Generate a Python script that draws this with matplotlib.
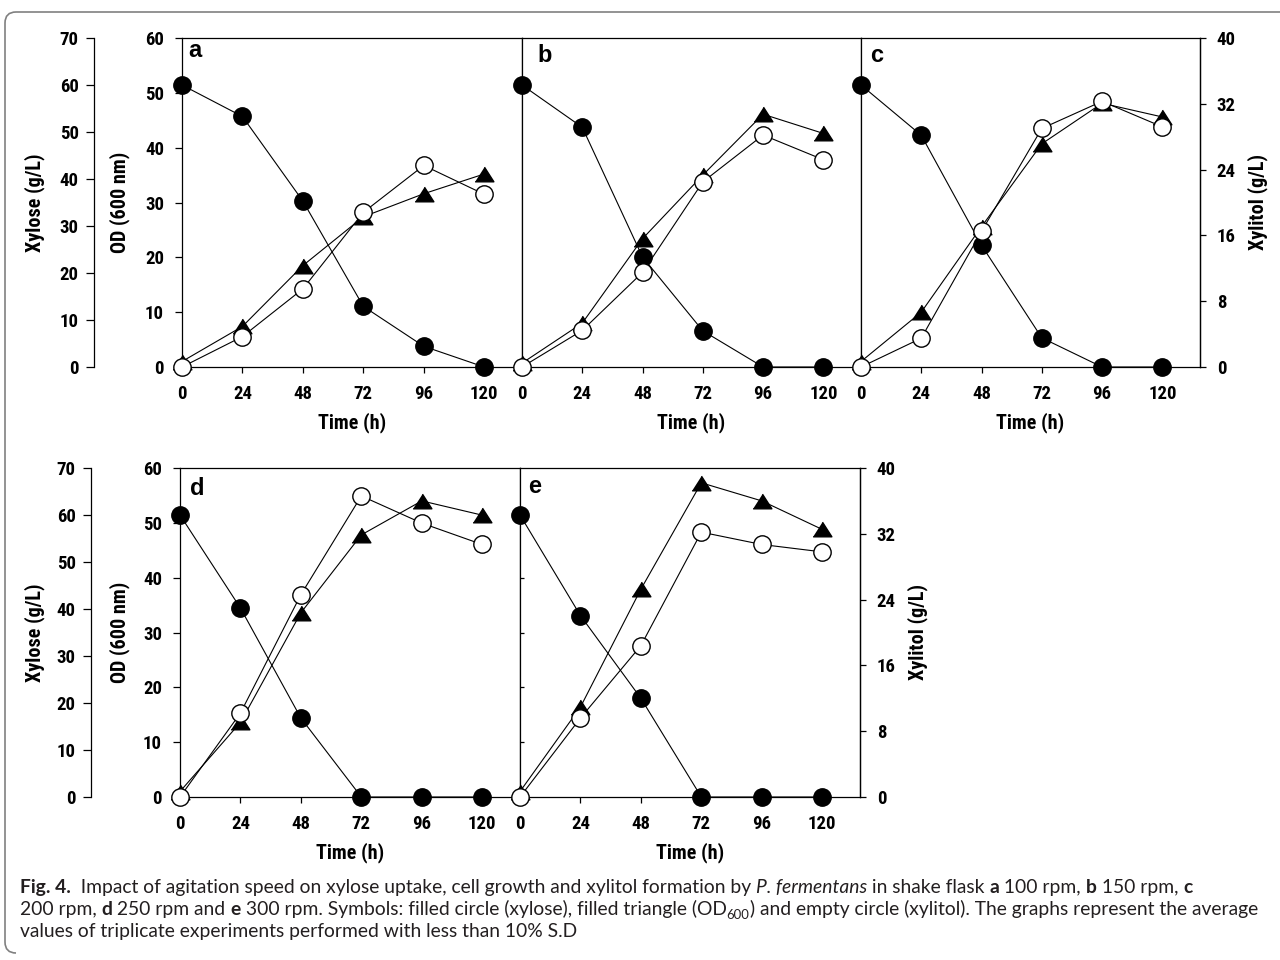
import matplotlib
matplotlib.use("Agg")
import matplotlib.pyplot as plt
from matplotlib import font_manager
from matplotlib.path import Path
from matplotlib.patches import PathPatch

# ---------------- data ----------------
time_h = [0, 24, 48, 72, 96, 120]
time_ticks = [0, 24, 48, 72, 96, 120]
xylose_ticks = [0, 10, 20, 30, 40, 50, 60, 70]
od_ticks = [0, 10, 20, 30, 40, 50, 60]
xylitol_ticks = [0, 8, 16, 24, 32, 40]
panel_letters = ["a", "b", "c", "d", "e"]

xylose_a = [60.0, 53.3, 35.3, 12.9, 4.4, 0.0]
od_a = [1.0, 7.4, 18.5, 27.4, 31.6, 35.2]
xylitol_a = [0.0, 3.7, 9.5, 18.8, 24.5, 21.0]

xylose_b = [60.0, 51.0, 23.4, 7.7, 0.0, 0.0]
od_b = [0.7, 8.0, 23.4, 35.0, 46.1, 42.6]
xylitol_b = [0.0, 4.45, 11.5, 22.5, 28.2, 25.2]

xylose_c = [60.0, 49.3, 25.9, 6.2, 0.0, 0.0]
od_c = [1.0, 10.0, 25.6, 40.7, 48.1, 45.6]
xylitol_c = [0.0, 3.5, 16.5, 29.0, 32.3, 29.2]

xylose_d = [60.0, 40.2, 16.8, 0.0, 0.0, 0.0]
od_d = [1.0, 13.6, 33.6, 47.8, 54.0, 51.4]
xylitol_d = [0.0, 10.2, 24.6, 36.6, 33.3, 30.7]

xylose_e = [60.0, 38.6, 21.0, 0.0, 0.0, 0.0]
od_e = [1.0, 16.4, 37.9, 57.3, 54.0, 48.8]
xylitol_e = [0.0, 9.6, 18.4, 32.2, 30.7, 29.8]

caption_lines = [
    [("Fig. 4.", "bold"),
     ("  Impact of agitation speed on xylose uptake, cell growth and xylitol formation by ", "reg"),
     ("P. fermentans", "italic"), (" in shake flask ", "reg"), ("a", "bold"),
     (" 100 rpm, ", "reg"), ("b", "bold"), (" 150 rpm, ", "reg"), ("c", "bold")],
    [("200 rpm, ", "reg"), ("d", "bold"), (" 250 rpm and ", "reg"), ("e", "bold"),
     (" 300 rpm. Symbols: filled circle (xylose), filled triangle (OD", "reg"), ("600", "sub"),
     (") and empty circle (xylitol). The graphs represent the average", "reg")],
    [("values of triplicate experiments performed with less than 10% S.D", "reg")],
]

# ---------------- fonts ----------------
names = {f.name for f in font_manager.fontManager.ttflist}


def pick(cands):
    return next(c for c in cands if c in names)


narrow = pick(["Liberation Sans Narrow", "Arial Narrow", "Roboto Condensed",
               "Archivo Narrow", "Liberation Sans"])
cap_font = pick(["Lato", "Open Sans", "DejaVu Sans"])
plt.rcParams["font.family"] = [narrow, "DejaVu Sans"]
plt.rcParams["font.weight"] = "bold"

W, H = 1280, 960
fig = plt.figure(figsize=(W / 100, H / 100), dpi=100)
fig.patch.set_facecolor("white")


def add_px_axes(left, right, top, bottom):
    return fig.add_axes([left / W, 1 - bottom / H, (right - left) / W, (bottom - top) / H])


tri = [(-1, -0.78), (1, -0.78), (0, 0.78)]
LW = 0.8
SPW = 0.9
TICK_FS = 13.5
LAB_FS = 14.5

panels = [
    ("a", xylose_a, od_a, xylitol_a, (182, 522, 38, 367), True, False, "top", (6, 19), 94),
    ("b", xylose_b, od_b, xylitol_b, (522, 861, 38, 367), False, False, "top", (15, 24), None),
    ("c", xylose_c, od_c, xylitol_c, (861, 1200, 38, 367), False, True, "top", (9, 24), None),
    ("d", xylose_d, od_d, xylitol_d, (180, 520, 468, 797), True, False, "bottom", (10, 27), 91),
    ("e", xylose_e, od_e, xylitol_e, (520, 860, 468, 797), False, True, "bottom", (8, 25), None),
]

for letter, xyl, od, xlt, box, first, last, row, lpos, xspine in panels:
    left, right, top, bottom = box
    wpx, hpx = right - left, bottom - top
    ax = add_px_axes(left, right, top, bottom)
    ax.set_xlim(0, 135)
    ax.set_ylim(0, 60)
    ax.set_xticks(time_ticks)
    ax.tick_params(axis="x", direction="out", length=4, width=SPW, pad=9, labelsize=TICK_FS)
    for sp in ax.spines.values():
        sp.set_linewidth(SPW)
    ax.set_xlabel("Time (h)", fontsize=LAB_FS, fontweight="bold")
    ax.xaxis.set_label_coords(0.5, -(412 - 367) / hpx)

    ax.plot(time_h, od, color="black", lw=LW, marker=tri, ms=13.5,
            mfc="black", mec="black", clip_on=False, zorder=3)

    axx = ax.twinx()
    axx.set_ylim(0, 70)
    for sp in axx.spines.values():
        sp.set_visible(False)
    axx.plot(time_h, xyl, color="black", lw=LW, marker="o", ms=12.5,
             mfc="black", mec="black", clip_on=False, zorder=3)

    axr = ax.twinx()
    axr.set_ylim(0, 40)
    for sp in axr.spines.values():
        sp.set_visible(False)
    axr.plot(time_h, xlt, color="black", lw=LW, marker="o", ms=12.5,
             mfc="white", mec="black", mew=1.0, clip_on=False, zorder=3)

    if first:
        ax.set_yticks(od_ticks)
        ax.tick_params(axis="y", direction="out", length=5, width=SPW, pad=8, labelsize=TICK_FS)
        ax.set_ylabel("OD (600 nm)", fontsize=LAB_FS, fontweight="bold")
        ax.yaxis.label.set_va("center")
        ax.yaxis.set_label_coords((120 - left) / wpx, 0.5)

        axx.spines["left"].set_visible(True)
        axx.spines["left"].set_linewidth(SPW)
        axx.spines["left"].set_position(("axes", (xspine - left) / wpx))
        axx.yaxis.set_ticks_position("left")
        axx.yaxis.set_label_position("left")
        axx.set_yticks(xylose_ticks)
        axx.tick_params(axis="y", direction="out", length=6, width=SPW, pad=5, labelsize=TICK_FS)
        axx.set_ylabel("Xylose (g/L)", fontsize=LAB_FS, fontweight="bold")
        axx.yaxis.label.set_va("center")
        axx.yaxis.set_label_coords((35 - left) / wpx, 0.5)
    else:
        axx.set_yticks([])
        if row == "bottom":
            ax.set_yticks([10, 20, 30, 40, 50])
            ax.tick_params(axis="y", direction="in", length=3, width=SPW, labelleft=False)
        else:
            ax.set_yticks([])

    if last:
        axr.spines["right"].set_visible(True)
        axr.spines["right"].set_linewidth(SPW)
        axr.set_yticks(xylitol_ticks)
        axr.tick_params(axis="y", direction="out", length=4, width=SPW, pad=8, labelsize=TICK_FS)
        axr.set_ylabel("Xylitol (g/L)", fontsize=LAB_FS, fontweight="bold")
        axr.yaxis.label.set_va("center")
        axr.yaxis.set_label_coords(((1258 if row == "top" else 918) - left) / wpx, 0.5)
    elif row == "top":
        axr.set_yticks([8, 16, 24, 32])
        axr.tick_params(axis="y", direction="out", length=3, width=SPW, labelright=False)
    else:
        axr.set_yticks([])

    axr.text(lpos[0] / wpx, 1 - lpos[1] / hpx, letter, transform=axr.transAxes,
             ha="left", va="baseline", fontsize=17, fontweight="bold",
             family=["Liberation Sans", "DejaVu Sans"])

# ---------------- caption ----------------
renderer = fig.canvas.get_renderer()


def run_kwargs(style, size):
    kw = dict(fontsize=size, family=[cap_font, "DejaVu Sans"], va="baseline", ha="left",
              fontweight="normal", color="#231f20")
    if style == "bold":
        kw["fontweight"] = "bold"
    elif style == "italic":
        kw["fontstyle"] = "italic"
    elif style == "sub":
        kw["fontsize"] = size * 0.68
    return kw


def draw_runs(runs, x0, ybase, size, keep=True):
    x = x0
    made = []
    for txt, style in runs:
        kw = run_kwargs(style, size)
        y = ybase + (4 if style == "sub" else 0)
        t = fig.text(x / W, 1 - y / H, txt, **kw)
        bb = t.get_window_extent(renderer)
        x += bb.width
        made.append(t)
    if not keep:
        for t in made:
            t.remove()
    return x - x0


test_size = 12.0
w2 = draw_runs(caption_lines[1], 20, 915, test_size, keep=False)
cap_size = test_size * (1235 / w2)
for runs, yb in zip(caption_lines, [893, 915, 937]):
    draw_runs(runs, 20, yb, cap_size)

# ---------------- frame ----------------
verts = [(1280, 12), (16, 12), (5, 12), (5, 23), (5, 942), (5, 953), (16, 953)]
codes = [Path.MOVETO, Path.LINETO, Path.CURVE3, Path.CURVE3, Path.LINETO, Path.CURVE3, Path.CURVE3]
verts_f = [(x / W, 1 - y / H) for x, y in verts]
frame = PathPatch(Path(verts_f, codes), transform=fig.transFigure, facecolor="none",
                  edgecolor="#808080", lw=1.2)
fig.patches.append(frame)

fig.savefig("out.png", dpi=100, facecolor="white")
